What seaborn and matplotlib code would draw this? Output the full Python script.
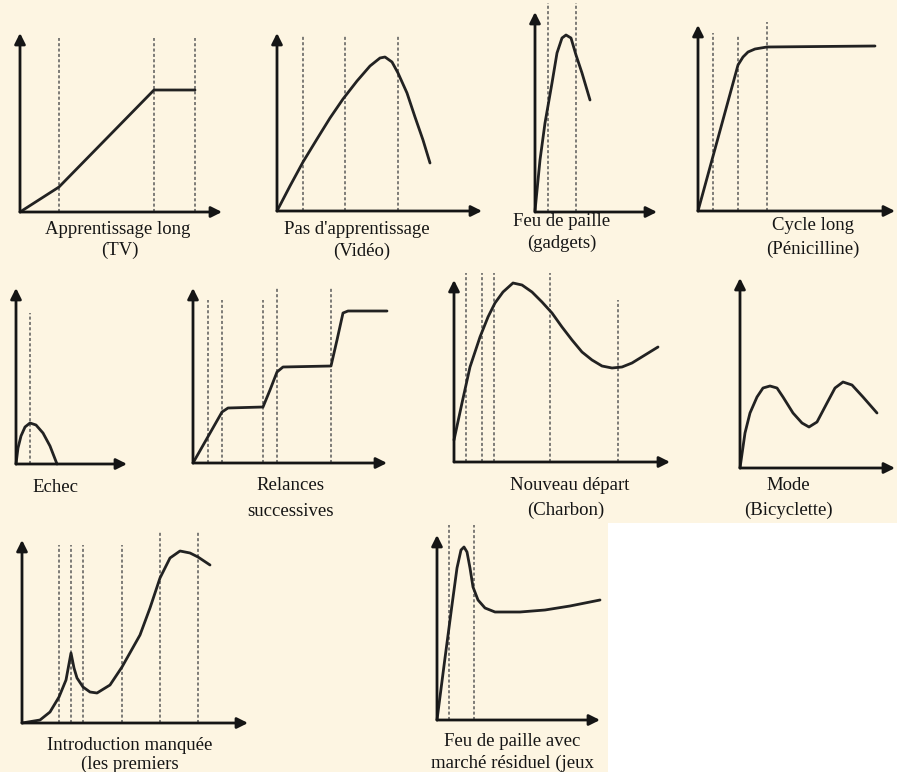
"""
Product life cycle shapes (cycles de vie), redrawn as small sketch panels.
"""

import matplotlib
matplotlib.use("Agg")
import matplotlib.pyplot as plt
from matplotlib.patches import Rectangle
import seaborn as sns

W, H = 897, 772
BG = "#fdf5e2"
INK = "#151515"

# --- data: curve points (time, sales), per panel ---
tv_t = [0, 39, 134, 175]
tv_v = [0, 25, 122, 122]
tv_marks = [39, 134, 175]

video_t = [0, 13, 26, 40, 53, 66, 80, 93, 103, 108, 115, 121, 130, 138, 146, 153]
video_v = [0, 25, 49, 72, 93, 112, 130, 145, 153, 154, 149, 138, 118, 94, 71, 48]
video_marks = [26, 68, 121]

gadget_t = [0, 5, 10, 17, 22, 27, 31, 36, 41, 47, 55]
gadget_v = [1, 52, 89, 129, 159, 174, 177, 174, 157, 139, 112]
gadget_marks = [13, 41]

peni_t = [0, 40, 45, 50, 57, 69, 177]
peni_v = [0, 146, 154, 159, 162, 164, 165]
peni_marks = [15, 40, 69]

echec_t = [0, 2, 5, 9, 14, 20, 27, 34, 41]
echec_v = [0, 16, 28, 37, 41, 39, 31, 18, 0]
echec_marks = [14]

relance_t = [0, 29, 35, 70, 77, 84, 90, 138, 144, 150, 155, 194]
relance_v = [0, 51, 55, 56, 73, 91, 96, 97, 123, 150, 152, 152]
relance_marks = [15, 29, 70, 84, 138]

charbon_t = [0, 8, 16, 26, 34, 41, 49, 59, 68, 78, 88, 98, 108, 118, 128, 138,
             148, 158, 168, 178, 191, 204]
charbon_v = [22, 59, 95, 125, 145, 159, 170, 179, 177, 170, 160, 149, 135, 122, 110, 102,
             96, 94, 95, 99, 107, 115]
charbon_marks = [12, 28, 40, 96, 164]

mode_t = [0, 5, 10, 17, 23, 30, 37, 43, 53, 62, 69, 77, 87, 95, 103, 112, 123, 137]
mode_v = [0, 35, 55, 71, 80, 82, 80, 71, 55, 45, 41, 46, 65, 80, 86, 83, 71, 55]
mode_marks = []

intro_t = [0, 18, 28, 37, 44, 49, 52, 55, 61, 68, 75, 88, 100, 118, 128, 138, 148, 158,
           168, 176, 188]
intro_v = [0, 3, 11, 26, 43, 70, 55, 45, 36, 31, 30, 38, 56, 88, 115, 145, 165, 172,
           170, 166, 158]
intro_marks = [37, 49, 61, 100, 138, 176]

jeux_t = [0, 8, 15, 20, 24, 27, 30, 33, 36, 41, 48, 58, 83, 108, 133, 163]
jeux_v = [0, 62, 115, 152, 170, 173, 168, 152, 133, 120, 112, 108, 108, 110, 114, 120]
jeux_marks = [12, 37]

# (origin x, origin y, arrow tip x, arrow tip y) in pixels, dashed-line tops, caption lines
panels = [
    dict(box=(20, 212, 222, 33), t=tv_t, v=tv_v, marks=tv_marks, tops=[174, 174, 174],
         caption=[("Apprentissage long", 118, 230), ("(TV)", 120, 250)]),
    dict(box=(277, 211, 482, 33), t=video_t, v=video_v, marks=video_marks, tops=[176, 176, 176],
         caption=[("Pas d'apprentissage", 357, 230), ("(Vidéo)", 362, 251)]),
    dict(box=(535, 212, 657, 12), t=gadget_t, v=gadget_v, marks=gadget_marks, tops=[209, 209],
         caption=[("Feu de paille", 562, 221), ("(gadgets)", 562, 243)]),
    dict(box=(698, 211, 895, 25), t=peni_t, v=peni_v, marks=peni_marks, tops=[178, 176, 189],
         caption=[("Cycle long", 813, 226), ("(Pénicilline)", 813, 249)]),
    dict(box=(16, 464, 127, 288), t=echec_t, v=echec_v, marks=echec_marks, tops=[151],
         caption=[("Echec", 55, 487)]),
    dict(box=(193, 463, 387, 288), t=relance_t, v=relance_v, marks=relance_marks,
         tops=[163, 163, 163, 175, 175],
         caption=[("Relances", 290, 486), ("successives", 290, 512)]),
    dict(box=(454, 462, 670, 280), t=charbon_t, v=charbon_v, marks=charbon_marks,
         tops=[189, 189, 189, 189, 162],
         caption=[("Nouveau départ", 570, 486), ("(Charbon)", 566, 510)]),
    dict(box=(740, 468, 895, 278), t=mode_t, v=mode_v, marks=mode_marks, tops=[],
         caption=[("Mode", 788, 486), ("(Bicyclette)", 788, 510)]),
    dict(box=(22, 723, 248, 540), t=intro_t, v=intro_v, marks=intro_marks,
         tops=[178, 178, 178, 178, 191, 191],
         caption=[("Introduction manquée", 130, 746), ("(les premiers", 130, 764)]),
    dict(box=(437, 720, 600, 535), t=jeux_t, v=jeux_v, marks=jeux_marks, tops=[195, 195],
         caption=[("Feu de paille avec", 512, 741), ("marché résiduel (jeux", 512, 763)]),
]

sns.set_style("white")
plt.rcParams["font.family"] = ["Liberation Serif", "DejaVu Serif"]

fig = plt.figure(figsize=(W / 100, H / 100), dpi=100, facecolor=BG)
# blank (white) corner of the scanned page
fig.patches.append(Rectangle((608 / W, 0), 1 - 608 / W, 1 - 523 / H,
                             transform=fig.transFigure, facecolor="white",
                             edgecolor="none", zorder=0))

for p in panels:
    x0, y0, x1, y1 = p["box"]
    ax = fig.add_axes([x0 / W, 1 - y0 / H, (x1 - x0) / W, (y0 - y1) / H])
    ax.set_facecolor("none")
    ax.set_xlim(0, x1 - x0)
    ax.set_ylim(0, y0 - y1)
    ax.set_axis_off()

    for m, top in zip(p["marks"], p["tops"]):
        ax.vlines(m, 0, top, colors="#5a5a5a", linestyles=(0, (2, 1.5)),
                  linewidth=1.1, clip_on=False)

    sns.lineplot(x=p["t"], y=p["v"], ax=ax, color="#222222", linewidth=2,
                 sort=False, estimator=None, clip_on=False)
    for ln in ax.lines:
        ln.set_solid_joinstyle("round")
        ln.set_solid_capstyle("round")

    arrow = dict(arrowstyle="-|>", color=INK, lw=2, mutation_scale=16, shrinkA=0, shrinkB=0)
    ax.annotate("", xy=(1, 0), xytext=(0, 0), xycoords="axes fraction",
                arrowprops=arrow, annotation_clip=False)
    ax.annotate("", xy=(0, 1), xytext=(0, 0), xycoords="axes fraction",
                arrowprops=arrow, annotation_clip=False)

    for txt, cx, cy in p["caption"]:
        fig.text(cx / W, 1 - cy / H, txt, ha="center", va="center",
                 fontsize=13.5, color=INK)

fig.savefig("out.png", dpi=100, facecolor=BG)
